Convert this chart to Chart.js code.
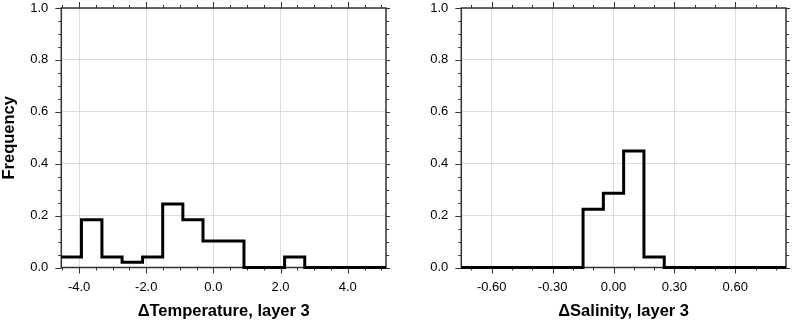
<!DOCTYPE html>
<html><head><meta charset="utf-8">
<script src="https://cdn.jsdelivr.net/npm/chart.js@4"></script>
<style>
html,body{margin:0;padding:0;background:#fff;width:794px;height:321px;overflow:hidden}
canvas{position:absolute;top:0}
</style></head><body>
<canvas id="c1" width="400" height="321" style="left:0"></canvas>
<canvas id="c2" width="394" height="321" style="left:400px"></canvas>
<script>
// ---- data ----
const tempEdges = [-4.53, -3.93, -3.32, -2.72, -2.11, -1.51, -0.91, -0.31, 0.30, 0.91, 1.51, 2.12, 2.72, 3.32, 3.93, 4.53, 5.14];
const tempFreq  = [0.0408, 0.1837, 0.0408, 0.0204, 0.0408, 0.2449, 0.1837, 0.1020, 0.1020, 0, 0, 0.0408, 0, 0, 0, 0];
const salEdges  = [-0.75, -0.65, -0.55, -0.45, -0.35, -0.25, -0.15, -0.05, 0.05, 0.15, 0.25, 0.35, 0.45, 0.55, 0.65, 0.75, 0.85];
const salFreq   = [0, 0, 0, 0, 0, 0, 0.2245, 0.2857, 0.4490, 0.0408, 0, 0, 0, 0, 0, 0];
const tempTicks = [-4, -2, 0, 2, 4];
const tempMinor = [-4.5, -3.5, -3, -2.5, -1.5, -1, -0.5, 0.5, 1, 1.5, 2.5, 3, 3.5, 4.5, 5];
const salTicks  = [-0.6, -0.3, 0, 0.3, 0.6];
const salMinor  = [-0.7, -0.5, -0.4, -0.2, -0.1, 0.1, 0.2, 0.4, 0.5, 0.7, 0.8];
const freqTicks = [0, 0.2, 0.4, 0.6, 0.8, 1.0];
const freqMinor = [0.05, 0.1, 0.15, 0.25, 0.3, 0.35, 0.45, 0.5, 0.55, 0.65, 0.7, 0.75, 0.85, 0.9, 0.95];

const FONT = "'Liberation Sans', Arial, Helvetica, sans-serif";

function stepPoints(edges, freq) {
  const pts = freq.map((v, i) => ({x: edges[i], y: v}));
  pts.push({x: edges[edges.length - 1], y: freq[freq.length - 1]});
  return pts;
}

const frameTicks = {
  id: 'frameTicks',
  beforeDatasetsDraw(chart, args, o) {
    const {ctx, chartArea: a, scales: {x, y}} = chart;
    ctx.save();
    ctx.strokeStyle = '#333';
    ctx.lineWidth = 1;
    ctx.beginPath();
    const xs = [...o.xMajor.map(v => [v, 6]), ...o.xMinor.map(v => [v, 3])];
    xs.forEach(([v, len]) => {
      const p = Math.round(x.getPixelForValue(v)) + 0.5;
      ctx.moveTo(p, a.bottom); ctx.lineTo(p, a.bottom + len);
      ctx.moveTo(p, a.top); ctx.lineTo(p, a.top - len);
    });
    const ys = [...o.yMajor.map(v => [v, 6, 4]), ...o.yMinor.map(v => [v, 3, 3])];
    ys.forEach(([v, len, rlen]) => {
      const p = Math.round(y.getPixelForValue(v)) + 0.5;
      ctx.moveTo(a.left - len, p); ctx.lineTo(a.left, p);
      ctx.moveTo(a.right, p); ctx.lineTo(a.right + rlen, p);
    });
    ctx.stroke();
    ctx.lineWidth = 1.5;
    ctx.strokeRect(a.left, a.top, a.right - a.left, a.bottom - a.top);
    ctx.restore();
  }
};

function makeChart(id, edges, freq, xMin, xMax, xMajor, xMinor, xDec, xTitle, yTitle, padRight) {
  return new Chart(document.getElementById(id), {
    type: 'line',
    data: {
      datasets: [{
        data: stepPoints(edges, freq),
        stepped: true,
        borderColor: '#000',
        borderWidth: 3,
        pointRadius: 0,
        fill: false,
        clip: false,
        borderCapStyle: 'butt',
        borderJoinStyle: 'miter'
      }]
    },
    options: {
      responsive: false,
      animation: false,
      events: [],
      layout: {padding: {top: 8, right: padRight, left: 0, bottom: 0}},
      plugins: {
        legend: {display: false},
        tooltip: {enabled: false},
        frameTicks: {xMajor, xMinor, yMajor: freqTicks, yMinor: freqMinor}
      },
      scales: {
        x: {
          type: 'linear', min: xMin, max: xMax,
          afterBuildTicks: s => { s.ticks = xMajor.map(v => ({value: v})); },
          afterFit: s => { s.height = 53.5; s.paddingLeft = 0; s.paddingRight = 0; },
          grid: {color: '#dcdcdc', lineWidth: 1, drawTicks: false},
          border: {display: false},
          ticks: {
            autoSkip: false, maxRotation: 0, padding: 12, color: '#000',
            font: {family: FONT, size: 13},
            callback: v => v.toFixed(xDec)
          },
          title: {
            display: true, text: xTitle, color: '#000',
            font: {family: FONT, size: 16.5, weight: 'bold'},
            padding: {top: 0, bottom: 0}
          }
        },
        y: {
          type: 'linear', min: 0, max: 1,
          afterBuildTicks: s => { s.ticks = freqTicks.map(v => ({value: v})); },
          afterFit: s => { s.width = 61.3; s.paddingTop = 0; s.paddingBottom = 0; },
          grid: {color: '#dcdcdc', lineWidth: 1, drawTicks: false},
          border: {display: false},
          ticks: {
            autoSkip: false, padding: 13, color: '#000',
            font: {family: FONT, size: 13},
            callback: v => v.toFixed(1)
          },
          title: {
            display: !!yTitle, text: yTitle, color: '#000',
            font: {family: FONT, size: 16.5, weight: 'bold'},
            padding: {top: 0, bottom: 0}
          }
        }
      }
    },
    plugins: [frameTicks]
  });
}

makeChart('c1', tempEdges, tempFreq, -4.53, 5.14, tempTicks, tempMinor, 1, 'ΔTemperature, layer 3', 'Frequency', 14);
makeChart('c2', salEdges, salFreq, -0.75, 0.85, salTicks, salMinor, 2, 'ΔSalinity, layer 3', '', 8);
</script>
</body></html>
